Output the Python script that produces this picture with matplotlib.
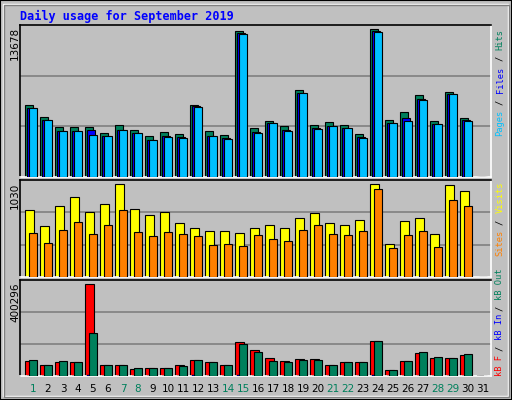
import matplotlib
matplotlib.use("Agg")
import matplotlib.pyplot as plt
from matplotlib.patches import Rectangle
import numpy as np

days = list(range(1, 32))
weekend = [1, 7, 8, 14, 15, 21, 22, 28, 29]
hits  = [6690,5575,4646,4646,4646,4088,4831,4367,3809,4181,3995,6690,4274,3902,13492,4553,5203,4739,8079,4831,5110,4831,3995,13678,5296,6039,7614,5203,7893,5482,0]
files = [6411,5296,4274,4274,4367,3809,4367,4088,3438,3809,3716,6597,3809,3623,13307,4181,5017,4367,7800,4553,4739,4553,3716,13492,5017,5482,7243,4924,7707,5296,0]
pages = [6411,5296,4274,4274,3902,3809,4367,4088,3438,3716,3623,6504,3809,3530,13214,4088,5017,4274,7800,4460,4739,4553,3623,13400,5017,5203,7150,4924,7707,5203,0]
visits = [750,571,784,884,728,817,1030,761,694,728,605,549,515,515,493,549,582,549,660,716,605,582,638,1030,369,627,660,481,1019,952,0]
sites  = [493,381,526,616,481,582,750,504,459,504,481,459,358,369,347,470,425,403,526,582,481,470,515,974,325,470,515,336,851,784,0]
kbf  = [65984,48388,61585,61585,400296,48388,48388,30792,35191,35191,48388,70382,61585,48388,149562,114371,79180,65984,74781,74781,48388,61585,61585,153961,26393,65984,101174,79180,79180,92377,0]
kbout= [70382,48388,65984,61585,189152,48388,48388,35191,35191,35191,43989,70382,61585,48388,140765,105574,65984,61585,70382,70382,48388,61585,61585,153961,26393,65984,105574,83579,79180,96776,0]
kbin = [1500,1200,1300,1300,2500,1200,1200,900,900,900,1200,3000,1300,1200,5000,1500,1500,1300,1500,1500,1200,1300,1300,2500,800,1300,1500,1500,1500,1500,0]

BG = "#C0C0C0"
W, H = 512, 400
fig = plt.figure(figsize=(W/100, H/100), dpi=100, facecolor=BG)

def px_axes(x0, y0, x1, y1):
    ax = fig.add_axes([x0/W, 1-y1/H, (x1-x0)/W, (y1-y0)/H])
    ax.set_facecolor(BG)
    ax.set_xlim(20, 491)
    for s in ax.spines.values():
        s.set_linewidth(1.2)
    ax.spines['top'].set_color('black'); ax.spines['left'].set_color('black')
    ax.spines['bottom'].set_color('white'); ax.spines['right'].set_color('white')
    ax.set_xticks([]); ax.set_yticks([])
    return ax

def grid(ax, top):
    for f in (1/3, 2/3):
        ax.axhline(top*f, color="#808080", lw=1.2, zorder=0)

x0 = np.array([25.3 + 15*(d-1) for d in days])
lw = 0.8

ax1 = px_axes(20, 25, 491, 177)
top1 = max(hits) * 1.027
ax1.set_ylim(0, top1); grid(ax1, top1)
ax1.bar(x0, hits, width=8, align='edge', color="#00805C", edgecolor='black', lw=lw, zorder=2)
ax1.bar(x0+2, files, width=8, align='edge', color="#0000FF", edgecolor='black', lw=lw, zorder=3)
ax1.bar(x0+3.7, pages, width=7.7, align='edge', color="#00C0FF", edgecolor='black', lw=lw, zorder=4)

ax2 = px_axes(20, 180, 491, 277)
top2 = max(visits) * 1.047
ax2.set_ylim(0, top2); grid(ax2, top2)
ax2.bar(x0, visits, width=8.4, align='edge', color="#FFFF00", edgecolor='black', lw=lw, zorder=2)
ax2.bar(x0+4, sites, width=7.4, align='edge', color="#FF8000", edgecolor='black', lw=lw, zorder=3)

ax3 = px_axes(20, 280, 491, 376)
top3 = max(kbf) * 1.044
ax3.set_ylim(0, top3); grid(ax3, top3)
ax3.bar(x0, kbf, width=8.4, align='edge', color="#FF0000", edgecolor='black', lw=lw, zorder=2)
ax3.bar(x0+2, kbin, width=7, align='edge', color="#0000FF", edgecolor='black', lw=0.3, zorder=3)
ax3.bar(x0+4, kbout, width=7.4, align='edge', color="#00805C", edgecolor='black', lw=lw, zorder=4)

def ftext(x, y, s, **kw):
    fig.text(x/W, 1-y/H, s, **kw)

ftext(20, 16, "Daily usage for September 2019", color="#0000FF", fontsize=8.5,
      family="DejaVu Sans Mono", fontweight="bold", va="center")

for lab, y in [(str(max(hits)), 27), (str(max(visits)), 183), (str(max(kbf)), 282)]:
    ftext(15, y, lab, rotation=90, ha="center", va="top", fontsize=7.5, color="black")

for d, xx in zip(days, x0):
    ftext(xx + 7.7, 389, str(d), ha="center", va="center", fontsize=7.5,
          color="#00805C" if d in weekend else "black")

def side(parts, ystart, cw=5.4):
    y = ystart
    for i, (s, c) in enumerate(parts):
        if i:
            ftext(500, y - cw*1.5, "/", rotation=90, ha="center", va="center",
                  fontsize=6.3, family="DejaVu Sans Mono", color="black")
            y -= cw*3
        ftext(500, y - 0.5, s, rotation=90, ha="center", va="bottom", fontsize=6.3,
              family="DejaVu Sans Mono", color=c)
        y -= cw * len(s)

side([("Pages", "#00C0FF"), ("Files", "#0000FF"), ("Hits", "#00805C")], 137)
side([("Sites", "#FF8000"), ("Visits", "#FFFF00")], 257)
side([("kB F", "#FF0000"), ("kB In", "#0000FF"), ("kB Out", "#00805C")], 376, cw=5.0)

# frame
fig.patches.append(Rectangle((0, 0), 1, 1, transform=fig.transFigure, fill=False, ec="black", lw=1.5))
fig.patches.append(Rectangle((3/W, 4/H), (W-7)/W, (H-8)/H, transform=fig.transFigure, fill=False, ec="white", lw=1))
fig.patches.append(Rectangle((4/W, 3/H), (W-7)/W, (H-8)/H, transform=fig.transFigure, fill=False, ec="#808080", lw=1))

fig.savefig("out.png", dpi=100, facecolor=BG)
